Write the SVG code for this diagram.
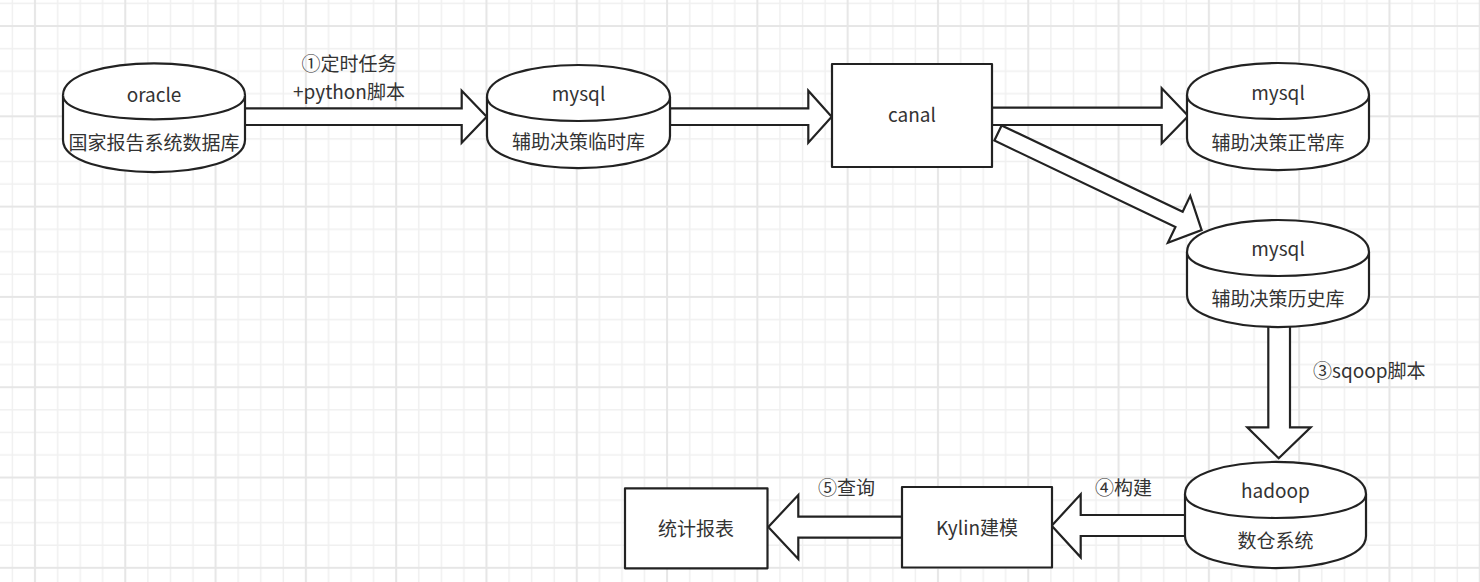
<svg xmlns="http://www.w3.org/2000/svg" width="1480" height="582" viewBox="0 0 1480 582">
<defs>
<pattern id="grid" patternUnits="userSpaceOnUse" x="25" y="16.1" width="90.3" height="90.3">
<path d="M32.575 0V90.3M55.15 0V90.3M77.725 0V90.3M0 32.575H90.3M0 55.15H90.3M0 77.725H90.3" stroke="#f0f0f0" stroke-width="1.5" fill="none"/>
<path d="M10 0V90.3M0 10H90.3" stroke="#e6e6e6" stroke-width="2" fill="none"/>
</pattern>
<style>
.n{fill:#fff;stroke:#222;stroke-width:2.2;stroke-linejoin:round}
.a{fill:#fff;stroke:#222;stroke-width:2.2;stroke-linejoin:miter}
.t{font-family:"Noto Sans CJK SC","Noto Sans",sans-serif;font-size:19px;fill:#333;text-anchor:middle}
.l{font-family:"Noto Sans CJK SC","Noto Sans",sans-serif;font-size:19px;fill:#333}
</style>
</defs>
<rect width="1480" height="582" fill="#fff"/>
<rect width="1480" height="582" fill="url(#grid)"/>

<g id="connectors">
<polygon class="a" points="244,108.3 461.7,108.3 461.7,90.7 486.7,116.7 461.7,142.7 461.7,125 244,125"/>
<polygon class="a" points="670,108.3 808.3,108.3 808.3,90.7 831.7,116.7 808.3,142.7 808.3,125 670,125"/>
<polygon class="a" points="992,107.7 1161.7,107.7 1161.7,88.3 1188.3,116 1161.7,143.3 1161.7,125 992,125"/>
<polygon class="a" transform="translate(998,133) rotate(25.5)" points="0,-8.4 200.6,-8.4 200.6,-26 225.6,0 200.6,26 200.6,8.4 0,8.4"/>
<polygon class="a" points="1268.3,322 1290,322 1290,427.3 1310.7,427.3 1278.7,458.3 1247.3,427.3 1268.3,427.3"/>
<polygon class="a" points="1186,515 1080.7,515 1080.7,494.3 1051.7,525.7 1080.7,557.3 1080.7,536 1186,536"/>
<polygon class="a" points="902,516.7 798.3,516.7 798.3,495 768.3,527 798.3,559 798.3,537.7 902,537.7"/>
<text class="t" x="349" y="71">①定时任务</text>
<text class="t" x="349" y="98.5">+python脚本</text>
<text class="l" x="1313" y="378">③sqoop脚本</text>
<text class="l" x="1095" y="495">④构建</text>
<text class="l" x="818" y="495">⑤查询</text>
</g>

<g id="oracle">
<path class="n" d="M63 95.3C63 52.6 245 52.6 245 95.3L245 140C245 182.7 63 182.7 63 140Z"/>
<path class="n" fill="none" d="M63 95.3C63 127.3 245 127.3 245 95.3"/>
<text class="t" x="154" y="101.5">oracle</text>
<text class="t" x="154" y="149.5">国家报告系统数据库</text>
</g>

<g id="mysql-temp">
<path class="n" d="M487 97C487 54.3 670 54.3 670 97L670 136C670 178.7 487 178.7 487 136Z"/>
<path class="n" fill="none" d="M487 97C487 129 670 129 670 97"/>
<text class="t" x="578.5" y="100.5">mysql</text>
<text class="t" x="578.5" y="149">辅助决策临时库</text>
</g>

<g id="canal">
<rect class="n" x="832" y="64" width="160" height="103"/>
<text class="t" x="912" y="122">canal</text>
</g>

<g id="mysql-normal">
<path class="n" d="M1187 95C1187 52.3 1369 52.3 1369 95L1369 138C1369 180.7 1187 180.7 1187 138Z"/>
<path class="n" fill="none" d="M1187 95C1187 127 1369 127 1369 95"/>
<text class="t" x="1278" y="100">mysql</text>
<text class="t" x="1278" y="149.5">辅助决策正常库</text>
</g>

<g id="mysql-history">
<path class="n" d="M1187 252C1187 209.3 1369 209.3 1369 252L1369 295C1369 337.7 1187 337.7 1187 295Z"/>
<path class="n" fill="none" d="M1187 252C1187 284 1369 284 1369 252"/>
<text class="t" x="1278" y="256">mysql</text>
<text class="t" x="1278" y="306">辅助决策历史库</text>
</g>

<g id="hadoop">
<path class="n" d="M1185 494C1185 451.3 1366 451.3 1366 494L1366 536C1366 578.7 1185 578.7 1185 536Z"/>
<path class="n" fill="none" d="M1185 494C1185 526 1366 526 1366 494"/>
<text class="t" x="1275.5" y="498">hadoop</text>
<text class="t" x="1275.5" y="548">数仓系统</text>
</g>

<g id="kylin">
<rect class="n" x="902" y="487" width="150" height="80.5"/>
<text class="t" x="977" y="535">Kylin建模</text>
</g>

<g id="report">
<rect class="n" x="625" y="488.3" width="142.5" height="80"/>
<text class="t" x="696" y="536">统计报表</text>
</g>
</svg>
